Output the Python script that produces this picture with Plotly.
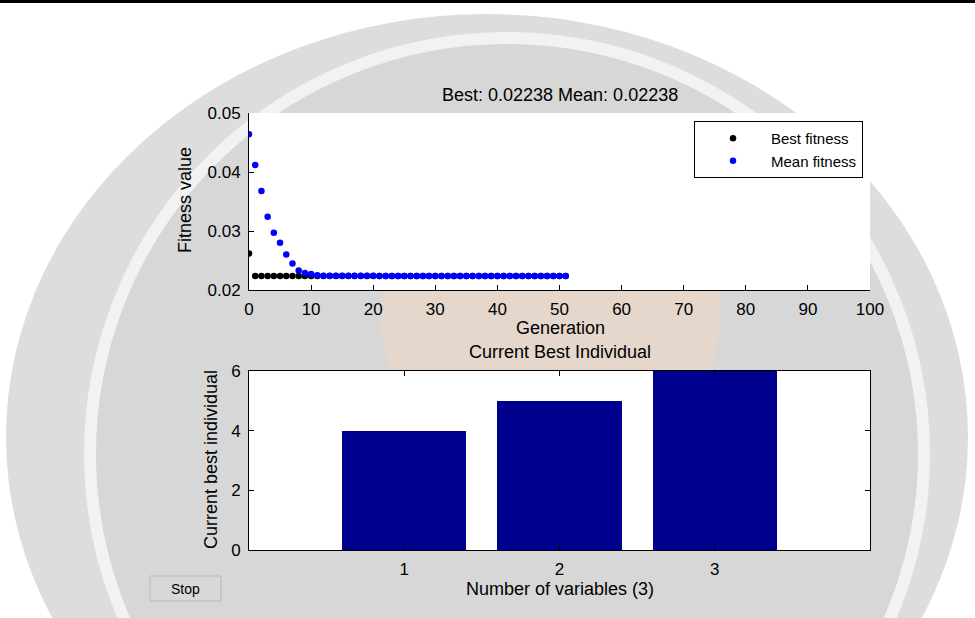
import plotly.graph_objects as go

# ---------------- data ----------------
generations = [0, 1, 2, 3, 4, 5, 6, 7, 8, 9, 10, 11, 12, 13, 14, 15, 16, 17, 18, 19,
               20, 21, 22, 23, 24, 25, 26, 27, 28, 29, 30, 31, 32, 33, 34, 35, 36, 37, 38, 39,
               40, 41, 42, 43, 44, 45, 46, 47, 48, 49, 50, 51]
best_fitness = [0.0262, 0.02238, 0.02238, 0.02238, 0.02238, 0.02238, 0.02238, 0.02238, 0.02238, 0.02238,
                0.02238, 0.02238, 0.02238, 0.02238, 0.02238, 0.02238, 0.02238, 0.02238, 0.02238, 0.02238,
                0.02238, 0.02238, 0.02238, 0.02238, 0.02238, 0.02238, 0.02238, 0.02238, 0.02238, 0.02238,
                0.02238, 0.02238, 0.02238, 0.02238, 0.02238, 0.02238, 0.02238, 0.02238, 0.02238, 0.02238,
                0.02238, 0.02238, 0.02238, 0.02238, 0.02238, 0.02238, 0.02238, 0.02238, 0.02238, 0.02238,
                0.02238, 0.02238]
mean_fitness = [0.0464, 0.0412, 0.0368, 0.0324, 0.0297, 0.0280, 0.0260, 0.0245, 0.0233, 0.0229,
                0.0227, 0.0225, 0.02243, 0.02243, 0.02243, 0.02243, 0.02243, 0.02243, 0.02243, 0.02243,
                0.02242, 0.02238, 0.02238, 0.02238, 0.02238, 0.02238, 0.02238, 0.02238, 0.02238, 0.02238,
                0.02238, 0.02238, 0.02238, 0.02238, 0.02238, 0.02238, 0.02238, 0.02238, 0.02238, 0.02238,
                0.02238, 0.02238, 0.02238, 0.02238, 0.02238, 0.02238, 0.02238, 0.02238, 0.02238, 0.02238,
                0.02238, 0.02238]
gen_ticks = [0, 10, 20, 30, 40, 50, 60, 70, 80, 90, 100]
fit_ticks = [0.02, 0.03, 0.04, 0.05]
fit_tick_labels = ["0.02", "0.03", "0.04", "0.05"]

variables = [1, 2, 3]
best_individual = [4, 5, 6]
ind_ticks = [0, 2, 4, 6]

top_title = "Best: 0.02238 Mean: 0.02238"
bottom_title = "Current Best Individual"

# ---------------- layout helpers ----------------
W, H = 975, 618
FONT = "Liberation Sans, Arial, sans-serif"


def px(x):
    return x / W


def py(y):
    return 1 - y / H


fig = go.Figure()

fig.add_trace(go.Scatter(x=generations, y=best_fitness, mode="markers", name="Best fitness",
                         marker=dict(color="black", size=6.5), xaxis="x", yaxis="y"))
fig.add_trace(go.Scatter(x=generations, y=mean_fitness, mode="markers", name="Mean fitness",
                         marker=dict(color="#0000ff", size=6.5), xaxis="x", yaxis="y"))
fig.add_trace(go.Bar(x=variables, y=best_individual, width=0.8, marker=dict(color="#00008f", line=dict(width=0)),
                     showlegend=False, xaxis="x2", yaxis="y2"))

axis_common = dict(showline=True, linecolor="black", linewidth=1, ticks="inside", ticklen=5,
                   tickcolor="black", tickfont=dict(family=FONT, size=17, color="black"),
                   showgrid=False, zeroline=False, fixedrange=True, automargin=False)

shapes = [
    # watermark seal
    dict(type="circle", xref="paper", yref="paper", layer="below",
         x0=px(6), x1=px(968), y0=py(14), y1=py(860), fillcolor="#dddddd", line=dict(width=0)),
    dict(type="circle", xref="paper", yref="paper", layer="below",
         x0=px(90), x1=px(924), y0=py(38), y1=py(870), fillcolor="#d7d7d7", line=dict(color="#f2f2f2", width=12)),
    dict(type="circle", xref="paper", yref="paper", layer="below",
         x0=px(380), x1=px(720), y0=py(160), y1=py(470), fillcolor="rgba(240,215,195,0.55)", line=dict(width=0)),
    # plot backgrounds
    dict(type="rect", xref="paper", yref="paper", layer="below",
         x0=px(249), x1=px(870), y0=py(290), y1=py(113), fillcolor="white", line=dict(width=0)),
    dict(type="rect", xref="paper", yref="paper", layer="below",
         x0=px(249), x1=px(870), y0=py(550), y1=py(371), fillcolor="white", line=dict(width=0)),
    # top rule
    dict(type="line", xref="paper", yref="paper", x0=0, x1=1, y0=py(1.5), y1=py(1.5),
         line=dict(color="black", width=3)),
    # stop button
    dict(type="rect", xref="paper", yref="paper", layer="below",
         x0=px(150), x1=px(221), y0=py(601), y1=py(576), fillcolor="#d8d8d8",
         line=dict(color="#b8b8b8", width=1)),
]


def note(text, x, y, size=18, angle=0):
    return dict(text=text, x=px(x), y=py(y), xref="paper", yref="paper", showarrow=False,
                xanchor="center", yanchor="middle", textangle=angle,
                font=dict(family=FONT, size=size, color="black"))


annotations = [
    note(top_title, 560, 95),
    note("Generation", 560, 328),
    note(bottom_title, 560, 352),
    note("Number of variables (3)", 560, 589),
    note("Fitness value", 185, 200, angle=-90),
    note("Current best individual", 211, 460, angle=-90),
    note("Stop", 185.5, 589, size=14),
]

fig.update_layout(
    template="none",
    width=W, height=H,
    margin=dict(l=0, r=0, t=0, b=0, pad=0, autoexpand=False),
    paper_bgcolor="white",
    plot_bgcolor="rgba(0,0,0,0)",
    font=dict(family=FONT, size=17, color="black"),
    xaxis=dict(domain=[px(249), px(870)], range=[0, 100], tickvals=gen_ticks, anchor="y",
               ticklabelstandoff=4, **axis_common),
    yaxis=dict(domain=[py(290), py(113)], range=[0.02, 0.05], tickvals=fit_ticks, ticktext=fit_tick_labels,
               anchor="x", ticklabelstandoff=4, **axis_common),
    xaxis2=dict(domain=[px(249), px(870)], range=[0, 4], tickvals=variables, anchor="y2", mirror="allticks",
                ticklabelstandoff=4, **axis_common),
    yaxis2=dict(domain=[py(550), py(371)], range=[0, 6], tickvals=ind_ticks, anchor="x2", mirror="allticks",
                ticklabelstandoff=4, **axis_common),
    legend=dict(x=px(863), y=py(121), xanchor="right", yanchor="top", bgcolor="white",
                bordercolor="black", borderwidth=1, itemwidth=66, tracegroupgap=0,
                font=dict(family=FONT, size=15, color="black")),
    shapes=shapes,
    annotations=annotations,
    bargap=0,
)

fig.write_html("out.html")
